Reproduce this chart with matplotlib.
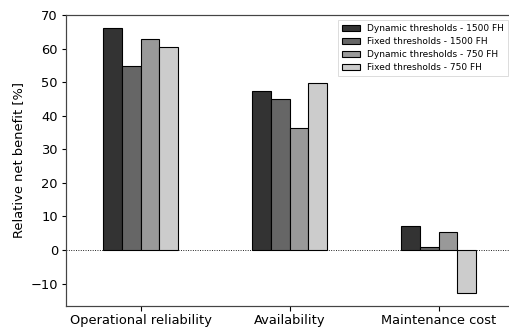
import matplotlib
matplotlib.use("Agg")
import matplotlib.pyplot as plt
import numpy as np

categories = ["Operational reliability", "Availability", "Maintenance cost"]
series_names = ["Dynamic thresholds - 1500 FH", "Fixed thresholds - 1500 FH",
                "Dynamic thresholds - 750 FH", "Fixed thresholds - 750 FH"]
dyn_1500 = [66.2, 47.4, 7.1]
fix_1500 = [54.7, 45.0, 0.8]
dyn_750 = [62.9, 36.3, 5.2]
fix_750 = [60.6, 49.8, -12.8]
colors = ['#333333', '#666666', '#999999', '#cccccc']

fig = plt.figure(figsize=(509 / 72, 331 / 72), dpi=72)
# right spine falls outside the picture, as in the cropped original
ax_w = 460  # px
ax = fig.add_axes([66 / 509, 25 / 331, ax_w / 509, 291 / 331])

ind = np.arange(len(categories))
barWidth = 0.125
all_series = [dyn_1500, fix_1500, dyn_750, fix_750]
for i, vals in enumerate(all_series):
    ax.bar(ind + (i - 1.5) * barWidth, vals, barWidth, color=colors[i],
           edgecolor='black', linewidth=1.1, label=series_names[i])

ax.axhline(0, color='black', linestyle=':', linewidth=0.9, zorder=0)
ax.set_xlim(-0.5, -0.5 + ax_w / 149)
ax.set_ylim(-16.7, 70)
ax.set_xticks(ind)
ax.set_xticklabels(categories, fontsize=13)
ax.tick_params(axis='y', labelsize=13)
ax.tick_params(width=1.1, length=4.5)
for s in ax.spines.values():
    s.set_linewidth(1.2)
    s.set_color('#444444')
ax.spines['right'].set_visible(False)
ax.set_ylabel('Relative net benefit [%]', fontsize=13, labelpad=5)
ax.legend(loc='upper right', fontsize=9, handlelength=2.0, borderpad=0.45,
          labelspacing=0.45, fancybox=False, framealpha=1, edgecolor='#dddddd',
          borderaxespad=0,
          bbox_to_anchor=((508 - 66) / ax_w, 1 - 5 / 291))

fig.savefig('out.png', dpi=72)
